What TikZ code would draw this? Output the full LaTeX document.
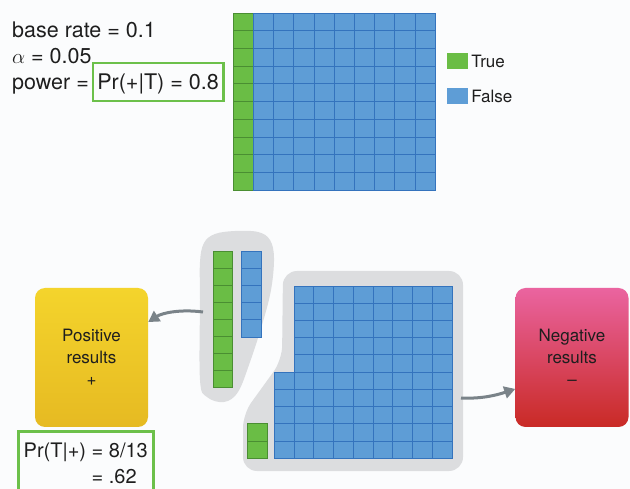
\documentclass[tikz,border=0pt]{standalone}
\usepackage{fontspec}
\setmainfont{TeX Gyre Heros}
\usetikzlibrary{positioning,arrows.meta,shadings}

\definecolor{paper}{HTML}{FBFCFD}
\definecolor{ink}{HTML}{1E1E1E}
\definecolor{truegreen}{HTML}{6ABD45}
\definecolor{trueedge}{HTML}{4A8E32}
\definecolor{falseblue}{HTML}{5E9DD6}
\definecolor{falseedge}{HTML}{3473BD}
\definecolor{blobgray}{HTML}{DCDDDF}
\definecolor{arrowgray}{HTML}{7A8389}
\definecolor{framegreen}{HTML}{6CC04A}
\definecolor{posTop}{HTML}{F4D42C}
\definecolor{posBottom}{HTML}{E6BA22}
\definecolor{negTop}{HTML}{EA64A0}
\definecolor{negBottom}{HTML}{C92A25}

\tikzstyle{true_cell}=[fill=truegreen,
                       draw=trueedge,
                       line width=0.6pt]
\tikzstyle{false_cell}=[fill=falseblue,
                        draw=falseedge,
                        line width=0.6pt]
\tikzstyle{blob}=[fill=blobgray]
\tikzstyle{stat}=[inner sep=0pt,
                  text=ink,
                  font=\fontsize{21.5}{26}\selectfont]
\tikzstyle{frame}=[draw=framegreen,
                   line width=2.5pt,
                   text=ink]
\tikzstyle{key}=[rectangle,
                 minimum width=21pt,
                 minimum height=16pt,
                 inner sep=0pt]
\tikzstyle{legend}=[inner sep=0pt,
                    text=ink,
                    font=\fontsize{17}{20}\selectfont]
\tikzstyle{result}=[rectangle,
                    rounded corners=10pt,
                    minimum width=113pt,
                    minimum height=139pt,
                    align=center,
                    text=ink,
                    font=\fontsize{17}{22}\selectfont]
\tikzstyle{positive}=[result, top color=posTop, bottom color=posBottom]
\tikzstyle{negative}=[result, top color=negTop, bottom color=negBottom]
\tikzstyle{flow}=[-{Triangle[length=11pt,width=12pt]}, line width=3pt, draw=arrowgray]

\begin{document}
\begin{tikzpicture}[x=1pt,y=-1pt]
      \fill[paper] (0,0) rectangle (630,489);
      \useasboundingbox (0,0) rectangle (630,489);

      % givens
      \node[stat, anchor=base west] (base_rate) at (12,38) {base rate = 0.1};
      \node[stat, anchor=base west] (alpha)     at (12,64) {$\alpha$ = 0.05};
      \node[stat, anchor=base west] (power)     at (12,90) {power =};
      \node[frame, stat, inner xsep=4.5pt, inner ysep=8pt,
            text height=19pt, text depth=3pt,
            base right=2.5pt of power] (power_pr) {Pr(+|T) = 0.8};

      % population of 100 hypotheses
      \foreach \row in {0,...,9}{
        \draw[true_cell] (233,{13+17.7*\row}) rectangle +(20.2,17.7);
        \foreach \col in {1,...,9}
          \draw[false_cell] ({233+20.2*\col},{13+17.7*\row}) rectangle +(20.2,17.7);
      }

      \node[key, fill=truegreen]  (true_key)  at (457.5,61) {};
      \node[key, fill=falseblue]  (false_key) at (457.5,96) {};
      \node[legend, right=3pt of true_key]  (true_label)  {True};
      \node[legend, right=3pt of false_key] (false_label) {False};

      % test outcomes
      \fill[blob] plot[smooth cycle, tension=0.6] coordinates {
        (200,300) (200,262) (204,243) (215,234) (235,231) (258,232)
        (270,240) (274,258) (271,290) (262,325) (250,362) (238,392)
        (224,402) (207,397) (200,380)};
      \fill[blob, rounded corners=14pt] (283,271) -- (463,271) -- (463,471)
        -- (243,471) -- (243,414) -- (282,360) -- cycle;
      \coordinate (tp_out) at (203,312);
      \coordinate (fn_out) at (461,398);

      \foreach \row in {0,...,7}
        \draw[true_cell] (213,{251+17*\row}) rectangle +(19.5,17);
      \foreach \row in {0,...,4}
        \draw[false_cell] (241,{251+17.2*\row}) rectangle +(20,17.2);

      \foreach \row in {0,...,9}{
        \foreach \col in {0,...,7}
          \draw[false_cell] ({294+19.75*\col},{286+17.2*\row}) rectangle +(19.75,17.2);
      }
      \foreach \row in {5,...,9}
        \draw[false_cell] (274.25,{286+17.2*\row}) rectangle +(19.75,17.2);
      \foreach \row in {8,9}
        \draw[true_cell] (247,{286+17.2*\row}) rectangle +(20,17.2);

      \node[positive] (positive) at (91.5,357.5) {Positive\\results\\+};
      \node[negative] (negative) at (572,357.5) {Negative\\results\\--};

      \draw[flow] (tp_out) .. controls (180,309) and (162,313) .. (positive.32);
      \draw[flow] (fn_out) .. controls (482,399) and (497,395) .. (negative.209);

      \node[frame, align=left, anchor=north west,
            minimum width=135pt, minimum height=68pt,
            font=\fontsize{20}{26}\selectfont] (pr_post) at (17,430)
            {Pr(T|+) = 8/13\\\phantom{Pr(T|+) }= .62};
\end{tikzpicture}
\end{document}
